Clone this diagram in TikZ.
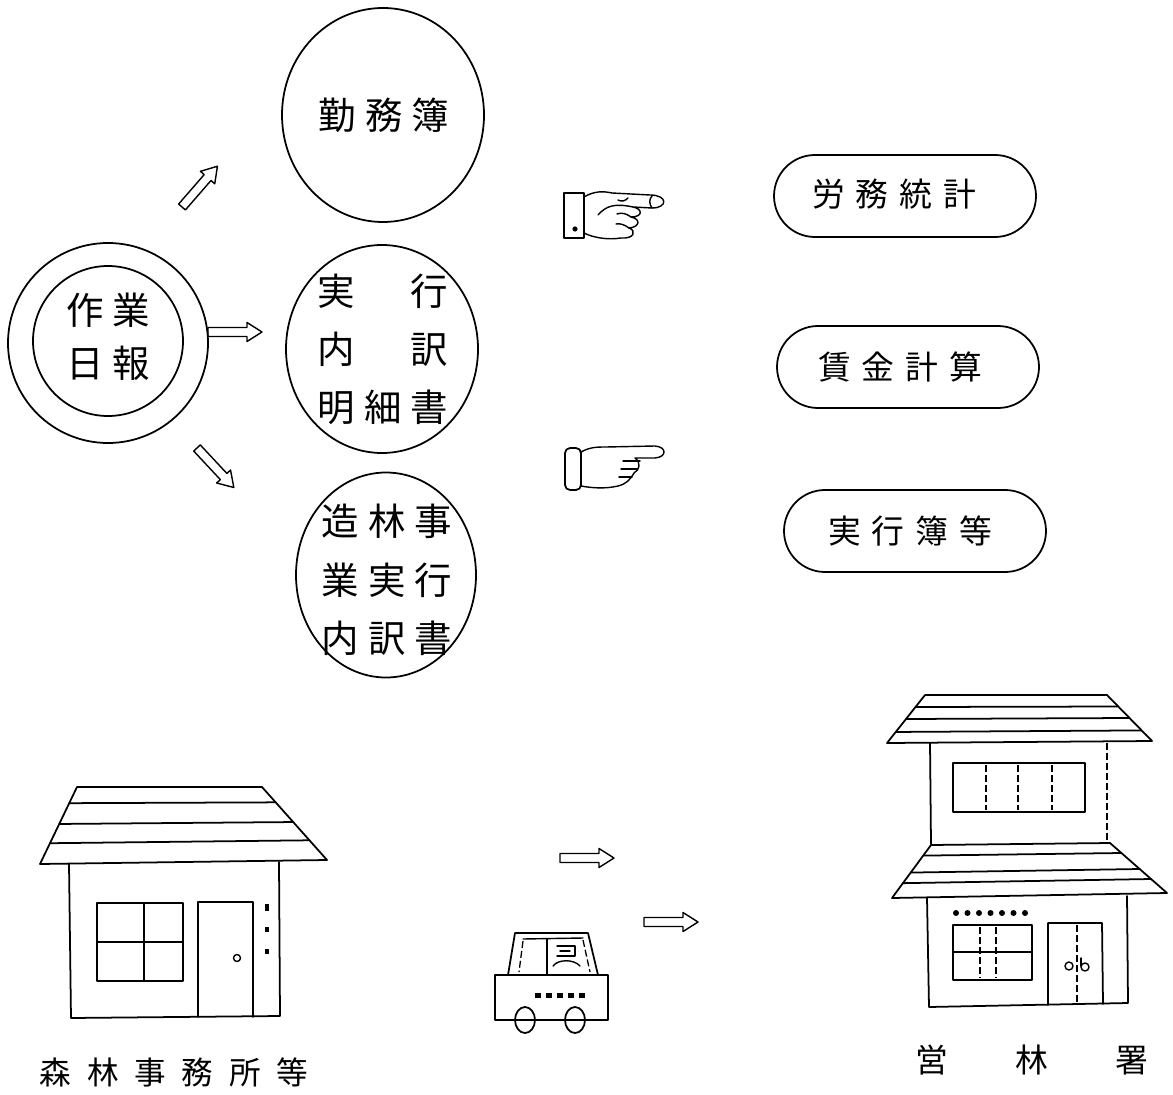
\documentclass[tikz,border=0pt]{standalone}
\usepackage{fontspec}
\newfontfamily\jp{Noto Sans CJK JP}
\usetikzlibrary{shapes.geometric,calc}
\def\px{0.3mm}
\newcommand\jgap{\hspace{0.24em}}
\tikzset{
  ink/.style={line width=1.5pt, line join=round, line cap=round},
  thin ink/.style={line width=1.2pt, line join=round, line cap=round},
  dash ink/.style={line width=1.1pt, dash pattern=on 6pt off 2.5pt},
  bubble/.style={ellipse, draw, ink, inner sep=0pt},
  pill/.style={rectangle, draw, ink, inner sep=0pt, minimum width=262*\px,
    minimum height=82*\px, rounded corners=41*\px},
  % outlined block arrow, tail at the pic origin, pointing along +x
  hollowarrow/.pic={
    \draw[thin ink] (0,-4.5) -- (39,-4.5) -- (39,-9.5) -- (54,0)
      -- (39,9.5) -- (39,4.5) -- (0,4.5) -- cycle;
  },
  bigtext/.style={font=\jp\fontsize{32}{#1}\selectfont, align=center, inner sep=0pt},
  pilltext/.style={font=\jp\fontsize{28}{32}\selectfont, inner sep=0pt},
  caption/.style={font=\jp\fontsize{27}{32}\selectfont, inner sep=0pt},
}
\begin{document}
\begin{tikzpicture}[x=0.3mm, y=-0.3mm]
\useasboundingbox (0,0) rectangle (1173,1095);

% ---- daily work report (double circle) ----
\node[circle, draw, ink, minimum size=200*\px, inner sep=0pt] (nippo) at (108,343) {};
\node[circle, draw, ink, minimum size=150*\px, inner sep=0pt] (nippoin) at (108,341) {};
\node[bigtext=45] (nippotxt) at (108,337) {作\jgap 業\\日\jgap 報};

% ---- three ledgers ----
\node[bubble, minimum width=202*\px, minimum height=214*\px] (kinmu) at (383,115) {};
\node[bigtext=40] (kinmutxt) at (384,115) {勤\jgap 務\jgap 簿};

\node[bubble, minimum width=192*\px, minimum height=208*\px] (meisai) at (382,349) {};
\node[bigtext=49.5] (meisaitxt) at (383,349)
  {実\jgap\phantom{細}\jgap 行\\内\jgap\phantom{細}\jgap 訳\\明\jgap 細\jgap 書};

\node[bubble, minimum width=180*\px, minimum height=205*\px] (zorin) at (386,575) {};
\node[bigtext=50] (zorintxt) at (387,580)
  {造\jgap 林\jgap 事\\業\jgap 実\jgap 行\\内\jgap 訳\jgap 書};

% ---- hollow arrows out of the report ----
\pic (a1) [rotate=49] at (182,207) {hollowarrow};
\pic (a2) at (208,332) {hollowarrow};
\pic (a3) [rotate=-47] at (197,448) {hollowarrow};

% ---- outputs ----
\node[pill] (romu) at (905,196) {};
\node[pilltext] (romutxt) at (894,194) {労\hspace{0.33em}務\hspace{0.33em}統\hspace{0.33em}計};
\node[pill] (chingin) at (908,367) {};
\node[pilltext] (chingintxt) at (900,367) {賃\hspace{0.33em}金\hspace{0.33em}計\hspace{0.33em}算};
\node[pill] (jikko) at (915,531) {};
\node[pilltext] (jikkotxt) at (910,531) {実\hspace{0.33em}行\hspace{0.33em}簿\hspace{0.33em}等};

% ---- pointing hand with a buttoned cuff ----
\draw[ink] (564,193) rectangle (584,238);
\fill (575,229) circle[radius=2.6];
\draw[thin ink] (584,197) .. controls (594,191) and (603,191) .. (612,193)
  -- (650,195) .. controls (668,195) and (668,208) .. (652,208) -- (633,207)
  .. controls (643,209) and (643,217) .. (631,217)
  .. controls (641,219) and (640,227) .. (629,228)
  .. controls (637,231) and (634,239) .. (621,238)
  .. controls (608,240) and (594,238) .. (584,233);
\draw[thin ink] (598,215) .. controls (606,206) and (614,203) .. (633,207);
\draw[thin ink] (652,196) .. controls (649,199) and (649,204) .. (652,208);
\draw[thin ink] (617,214) .. controls (622,212) and (627,214) .. (631,217);
\draw[thin ink] (616,224) .. controls (620,223) and (625,225) .. (629,228);
\draw[thin ink] (618,200) .. controls (622,202) and (625,201) .. (628,198);

% ---- pointing hand with a rolled cuff ----
\draw[ink, rounded corners=5*\px] (565,448) rectangle (581,490);
\draw[thin ink] (581,452) .. controls (590,447) and (597,447) .. (606,447)
  -- (655,446) .. controls (667,447) and (667,457) .. (655,458) -- (635,458)
  .. controls (641,462) and (640,470) .. (634,473)
  .. controls (630,480) and (626,484) .. (618,486)
  .. controls (605,489) and (592,488) .. (581,486);
\draw[thin ink] (623,461) -- (640,461);
\draw[thin ink] (621,469) -- (637,469);
\draw[thin ink] (619,477) -- (632,477);

% ---- forest office (left house) ----
\coordinate (r1tl) at (77,787);
\coordinate (r1tr) at (262,787);
\coordinate (r1bl) at (40,864);
\coordinate (r1br) at (327,860);
\draw[ink] (r1tl) -- (r1tr) -- (r1br) -- (r1bl) -- cycle;
\foreach \t in {0.21,0.48,0.73}
  \draw[ink] ($(r1tl)!\t!(r1bl)$) -- ($(r1tr)!\t!(r1br)$);
\draw[ink] (69,864) -- (71,1018) -- (280,1016) -- (279,862);
\draw[ink] (97,903) rectangle (183,981);
\draw[ink] (144,903) -- (144,981) (97,942) -- (183,942);
\draw[ink] (198,1017) -- (198,902) -- (253,902) -- (253,1017);
\draw[thin ink] (237,958) circle[radius=3.5];
\fill (265,904) rectangle (269,911);
\fill (265,927) rectangle (269,932);
\fill (265,949) rectangle (269,954);
\node[caption] (office) at (174,1072)
  {森\hspace{0.5em}林\hspace{0.5em}事\hspace{0.5em}務\hspace{0.5em}所\hspace{0.5em}等};

% ---- courier car ----
\pic (a4) at (560,858) {hollowarrow};
\pic (a5) at (644,922) {hollowarrow};
\draw[ink] (495,975) rectangle (608,1020);
\draw[ink] (508,975) -- (515,933) -- (588,933) -- (598,975);
\draw[thin ink] (523,939) -- (583,938);
\draw[dash ink] (523,941) -- (519,972);
\draw[dash ink] (583,940) -- (590,972);
\draw[thin ink] (547,939) -- (547,975);
\draw[thin ink] (557,946) -- (575,946) -- (575,956) -- (557,956);
\draw[thin ink] (560,951) -- (570,951);
\draw[thin ink] (553,966) .. controls (558,959) and (574,959) .. (580,966);
\foreach \xx in {535,546,557,568,579}
  \fill (\xx,993) rectangle ++(6,5);
\draw[ink] (525,1020) ellipse[x radius=10, y radius=13];
\draw[ink] (575,1020) ellipse[x radius=10, y radius=13];

% ---- district forestry office (right house) ----
\coordinate (r2tl) at (925,695);
\coordinate (r2tr) at (1107,695);
\coordinate (r2bl) at (887,743);
\coordinate (r2br) at (1152,741);
\draw[ink] (r2tl) -- (r2tr) -- (r2br) -- (r2bl) -- cycle;
\foreach \t in {0.25,0.5,0.77}
  \draw[ink] ($(r2tl)!\t!(r2bl)$) -- ($(r2tr)!\t!(r2br)$);
\draw[ink] (930,743) -- (931,844);
\draw[dash ink] (1107,743) -- (1107,844);
\draw[ink] (953,763) rectangle (1085,812);
\foreach \xx in {986,1018,1052}
  \draw[dash ink] (\xx,765) -- (\xx,810);
\coordinate (r3tl) at (931,845);
\coordinate (r3tr) at (1110,843);
\coordinate (r3bl) at (892,898);
\coordinate (r3br) at (1167,893);
\draw[ink] (r3tl) -- (r3tr) -- (r3br) -- (r3bl) -- cycle;
\foreach \t in {0.2,0.52,0.72}
  \draw[ink] ($(r3tl)!\t!(r3bl)$) -- ($(r3tr)!\t!(r3br)$);
\draw[ink] (927,898) -- (929,1007) -- (1128,1003) -- (1127,896);
\foreach \i in {0,...,6}
  \fill (956+11.5*\i,913) circle[radius=3];
\draw[ink] (953,925) rectangle (1032,980);
\draw[ink] (953,952) -- (1032,952);
\draw[dash ink] (980,927) -- (980,978);
\draw[dash ink] (996,927) -- (996,978);
\draw[ink] (1048,1005) -- (1048,923) -- (1102,923) -- (1103,1004);
\draw[dash ink] (1077,925) -- (1077,1003);
\draw[thin ink] (1069,966) circle[radius=4];
\draw[thin ink] (1085,967) circle[radius=4];
\draw[thin ink] (1081,966) -- (1081,958);
\node[caption, font=\jp\fontsize{28}{32}\selectfont] (eirinsho) at (1032,1060)
  {営\hspace{2.05em}林\hspace{2.05em}署};
\end{tikzpicture}
\end{document}
